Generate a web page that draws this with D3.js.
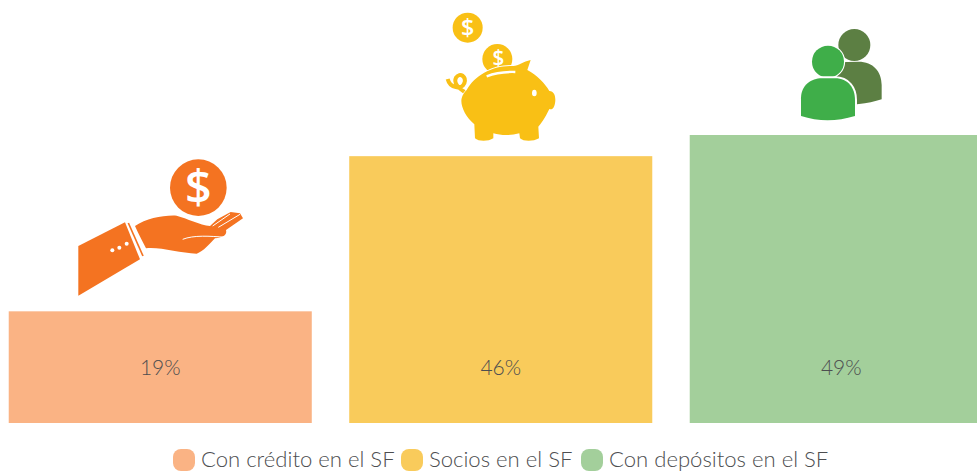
<!DOCTYPE html>
<html><head><meta charset="utf-8">
<script src="https://cdn.jsdelivr.net/npm/d3@7/dist/d3.min.js"></script>
<style>html,body{margin:0;padding:0;background:#fff;overflow:hidden}svg{display:block}</style>
</head><body><svg id="c" width="977" height="472"></svg>
<script>
const categories = ["Con crédito en el SF","Socios en el SF","Con depósitos en el SF"];
const values = [19,45.4,49];
const valueLabels = ["19%","46%","49%"];
const barColors = ["#FAB384","#F9CB5B","#A3CF9B"];
const svg = d3.select("#c"), F = "Lato, 'Open Sans', sans-serif";
const x = d3.scaleBand().domain(categories).range([-10,1011.5]).paddingInner(0.11).paddingOuter(0.055);
const y = d3.scaleLinear().domain([0,49]).range([423,135]);
const color = d3.scaleOrdinal().domain(categories).range(barColors);
const rows = categories.map((c,i)=>({c,v:values[i],l:valueLabels[i]}));
svg.selectAll("rect.bar").data(rows).join("rect").attr("class","bar")
  .attr("x",d=>x(d.c)).attr("width",x.bandwidth()).attr("y",d=>y(d.v)).attr("height",d=>y(0)-y(d.v)).attr("fill",d=>color(d.c));
svg.selectAll("text.val").data(rows).join("text").attr("class","val")
  .attr("x",d=>x(d.c)+x.bandwidth()/2).attr("y",375).attr("text-anchor","middle")
  .attr("font-family",F).attr("font-size",21).attr("font-weight",300).attr("fill","#4d4e50").text(d=>d.l);
// legend
const legendX = [173,401,581];
const lg = svg.selectAll("g.lg").data(categories).join("g").attr("class","lg").attr("transform",(d,i)=>`translate(${legendX[i]},449)`);
lg.append("rect").attr("width",22).attr("height",22).attr("rx",8).attr("fill",d=>color(d));
lg.append("text").attr("x",28).attr("y",18).attr("font-family",F).attr("font-size",22.1).attr("font-weight",300).attr("fill","#4d4e50").text(d=>d);
// icons (drawn in zoom-crop coordinates, 3x)
const o="#F47321", ye="#F9C015", g1="#3FAE49", g2="#5C7F43";
function icon(px,py){return svg.append("g").attr("transform",`translate(${px},${py}) scale(${1/3})`);}
function dollar(g,cx,cy,size,fill,weight){g.append("text").attr("x",cx).attr("y",cy+size*0.36).attr("text-anchor","middle").attr("font-family","'Open Sans',sans-serif").attr("font-weight",weight||700).attr("font-size",size).attr("fill",fill).text("$");}
const h = icon(60,150);
h.append("circle").attr("cx",415).attr("cy",113).attr("r",85).attr("fill",o);
dollar(h,415,113,140,"#fff",600);
h.append("path").attr("fill",o).attr("d","M55,288 L195,217 L240,328 L55,437Z");
h.append("path").attr("stroke",o).attr("stroke-width",5).attr("fill","none").attr("d","M205,219 L249,318");
h.append("path").attr("fill",o).attr("d","M225,228 C260,205 310,195 350,197 C380,205 420,225 450,228 L472,208 L512,186 L540,190 L549,205 L498,240 C502,255 490,262 465,265 C450,280 430,305 410,311 C360,310 300,290 258,295 C245,270 235,250 225,228Z");
h.append("path").attr("fill","none").attr("stroke","#fff").attr("stroke-width",3).attr("d","M368,268 C400,255 450,258 497,262 M458,228 L510,192 M475,232 L540,193");
h.selectAll("circle.d").data([157,178,200]).join("circle").attr("cx",d=>d).attr("cy",d=>d===157?301:d===178?293:281).attr("r",6).attr("fill","#fff");
const p = icon(430,5);
p.append("circle").attr("cx",113).attr("cy",68).attr("r",45).attr("fill",ye);
dollar(p,113,68,70,"#fff",600);
p.append("circle").attr("cx",202).attr("cy",162).attr("r",45).attr("fill",ye);
dollar(p,205,158,62,"#fff",600);
p.append("path").attr("fill","none").attr("stroke",ye).attr("stroke-width",12).attr("d","M53,222 C60,250 95,255 103,235 C110,215 90,200 78,218 C70,232 85,250 105,262");
p.append("path").attr("fill",ye).attr("stroke","#fff").attr("stroke-width",5).attr("paint-order","stroke").attr("d","M110,255 C135,210 190,180 250,183 C265,182 280,170 302,165 L292,195 C320,210 345,235 358,258 C375,258 378,280 375,295 C372,312 365,315 358,312 C345,340 330,360 325,365 L327,400 C310,410 280,410 270,400 L268,385 C240,392 215,392 190,385 L190,400 C175,410 145,410 135,400 L133,358 C105,335 90,300 95,280 C97,270 103,262 110,255Z");
p.append("path").attr("fill","none").attr("stroke","#fff").attr("stroke-width",7).attr("d","M170,214 C195,204 225,200 256,201");
p.append("ellipse").attr("cx",313).attr("cy",264).attr("rx",7).attr("ry",10).attr("fill","#fff");
const u = icon(780,20);
u.append("circle").attr("cx",223).attr("cy",75).attr("r",48).attr("fill",g2);
u.append("path").attr("fill",g2).attr("d","M170,127 L235,125 C280,125 305,155 305,195 L305,238 C285,245 260,250 237,252 L170,260 Z");
u.append("circle").attr("cx",144).attr("cy",125).attr("r",48).attr("fill",g1).attr("stroke","#fff").attr("stroke-width",7).attr("paint-order","stroke");
u.append("path").attr("fill",g1).attr("stroke","#fff").attr("stroke-width",12).attr("paint-order","stroke").attr("d","M63,288 L63,235 C63,195 95,175 125,175 L165,175 C205,175 225,205 225,240 L225,288 C170,305 115,305 63,288Z");
</script></body></html>
